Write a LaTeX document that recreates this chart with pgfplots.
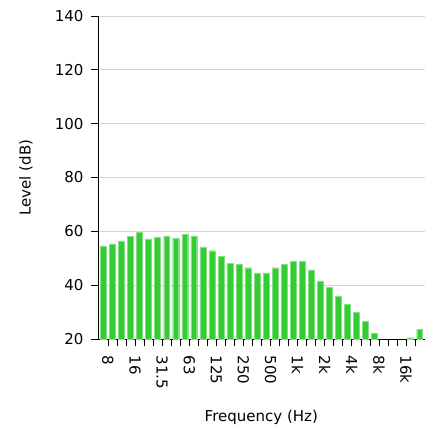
\documentclass[border=0pt]{standalone}
\usepackage{fontspec}
\setmainfont{DejaVu Sans}
\usepackage{pgfplots}
\pgfplotsset{compat=1.18}
\definecolor{barg}{RGB}{51,204,51}
\definecolor{gridc}{RGB}{212,212,212}
\begin{document}
\begin{tikzpicture}
\begin{axis}[
  at={(98pt,90pt)}, anchor=south west,
  scale only axis, width=326.6pt, height=323pt,
  xmin=-0.6, xmax=35.55, ymin=20, ymax=140,
  axis x line*=bottom, axis y line*=left,
  axis line style={line width=0.8pt, black},
  ytick={20,40,...,140},
  ymajorgrids, grid style={gridc, line width=0.8pt},
  xtick={0.5,3.5,...,33.5},
  xticklabels={8,16,31.5,63,125,250,500,1k,2k,4k,8k,16k},
  minor xtick={0.5,1.5,...,34.5},
  tick align=outside,
  major tick length=7pt, minor tick length=7pt,
  tick style={black, line width=0.8pt},
  /pgf/number format/assume math mode=true,
  ticklabel style={font=\fontsize{15}{17}\selectfont},
  xticklabel style={yshift=-6pt, rotate=-90, anchor=west},
  yticklabel style={xshift=-4pt},
  label style={font=\fontsize{15}{17}\selectfont},
  xlabel={Frequency (Hz)}, ylabel={Level (dB)},
  xlabel style={at={(axis description cs:0.5,-0.2415)}, anchor=center},
  ylabel style={at={(axis description cs:-0.2205,0.5)}, anchor=center},
]
\addplot[ybar, bar shift=0pt, bar width=0.66, fill=barg, draw=barg!60!white, line width=0.3pt] coordinates {
(0,54.6) (1,55.3) (2,56.5) (3,58.1) (4,59.6) (5,57.2) (6,57.8) (7,58.3)
(8,57.5) (9,59.0) (10,58.3) (11,54.2) (12,52.8) (13,50.6) (14,48.2) (15,47.7)
(16,46.5) (17,44.6) (18,44.6) (19,46.5) (20,47.7) (21,48.8) (22,48.8) (23,45.7)
(24,41.6) (25,39.3) (26,36.0) (27,32.9) (28,29.8) (29,26.6) (30,22.3)
(34,20.5) (35,23.6)
};
\end{axis}
\pgfresetboundingbox
\path[use as bounding box] (0,0) rectangle (424pt,429pt);
\end{tikzpicture}
\end{document}
